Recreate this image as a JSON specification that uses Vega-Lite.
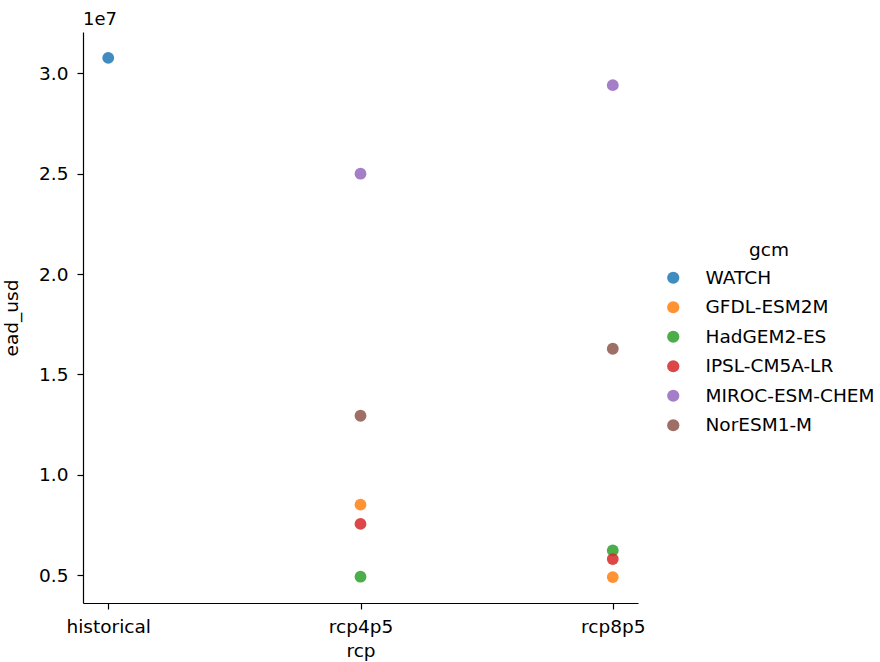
{
  "$schema": "https://vega.github.io/schema/vega-lite/v6.json",
  "width": 555,
  "height": 571,
  "autosize": {"type": "none"},
  "padding": {"left": 83, "top": 32, "right": 242, "bottom": 59},
  "background": "white",
  "config": {
    "font": "DejaVu Sans",
    "view": {"stroke": null},
    "axis": {"labelFont": "DejaVu Sans", "titleFont": "DejaVu Sans", "labelFontSize": 18.5, "titleFontSize": 18.5, "titleFontWeight": "normal", "labelColor": "#000", "titleColor": "#000", "domainColor": "#000", "tickColor": "#000", "grid": false, "tickSize": 6, "domainWidth": 1.2, "tickWidth": 1.2}
  },
  "title": {"text": "1e7", "anchor": "start", "frame": "group", "fontSize": 18, "fontWeight": "normal", "font": "DejaVu Sans", "color": "#000", "offset": 3},
  "data": {
    "values": [
      {"rcp": "historical", "gcm": "WATCH", "ead_usd": 30770000},
      {"rcp": "rcp4p5", "gcm": "GFDL-ESM2M", "ead_usd": 8510000},
      {"rcp": "rcp4p5", "gcm": "HadGEM2-ES", "ead_usd": 4920000},
      {"rcp": "rcp4p5", "gcm": "IPSL-CM5A-LR", "ead_usd": 7550000},
      {"rcp": "rcp4p5", "gcm": "MIROC-ESM-CHEM", "ead_usd": 25000000},
      {"rcp": "rcp4p5", "gcm": "NorESM1-M", "ead_usd": 12940000},
      {"rcp": "rcp8p5", "gcm": "GFDL-ESM2M", "ead_usd": 4900000},
      {"rcp": "rcp8p5", "gcm": "HadGEM2-ES", "ead_usd": 6230000},
      {"rcp": "rcp8p5", "gcm": "IPSL-CM5A-LR", "ead_usd": 5800000},
      {"rcp": "rcp8p5", "gcm": "MIROC-ESM-CHEM", "ead_usd": 29410000},
      {"rcp": "rcp8p5", "gcm": "NorESM1-M", "ead_usd": 16280000}
    ]
  },
  "mark": {"type": "circle", "size": 140, "opacity": 0.85},
  "encoding": {
    "x": {
      "field": "rcp", "type": "nominal",
      "scale": {"type": "point", "padding": 0.1},
      "sort": ["historical", "rcp4p5", "rcp8p5"],
      "axis": {"labelAngle": 0, "labelPadding": 8, "titlePadding": 6, "title": "rcp"}
    },
    "y": {
      "field": "ead_usd", "type": "quantitative",
      "scale": {"domain": [3610000, 32060000], "nice": false, "zero": false},
      "axis": {"values": [5000000, 10000000, 15000000, 20000000, 25000000, 30000000], "labelExpr": "format(datum.value/1e7, '.1f')", "title": "ead_usd", "titlePadding": 17, "labelPadding": 9}
    },
    "color": {
      "field": "gcm", "type": "nominal",
      "sort": ["WATCH", "GFDL-ESM2M", "HadGEM2-ES", "IPSL-CM5A-LR", "MIROC-ESM-CHEM", "NorESM1-M"],
      "scale": {"domain": ["WATCH", "GFDL-ESM2M", "HadGEM2-ES", "IPSL-CM5A-LR", "MIROC-ESM-CHEM", "NorESM1-M"], "range": ["#1f77b4", "#ff7f0e", "#2ca02c", "#d62728", "#9467bd", "#8c564b"]},
      "legend": {
        "orient": "none", "legendX": 581, "legendY": 209,
        "title": "gcm", "titleAnchor": "middle", "titleFontSize": 18.5, "titleFontWeight": "normal", "titleColor": "#000", "titleFont": "DejaVu Sans", "titlePadding": 9,
        "labelFontSize": 18.5, "labelColor": "#000", "labelFont": "DejaVu Sans", "labelOffset": 23, "labelLimit": 400,
        "symbolType": "circle", "symbolSize": 150, "symbolOpacity": 0.85, "symbolStrokeWidth": 0, "rowPadding": 10.5
      }
    }
  }
}
